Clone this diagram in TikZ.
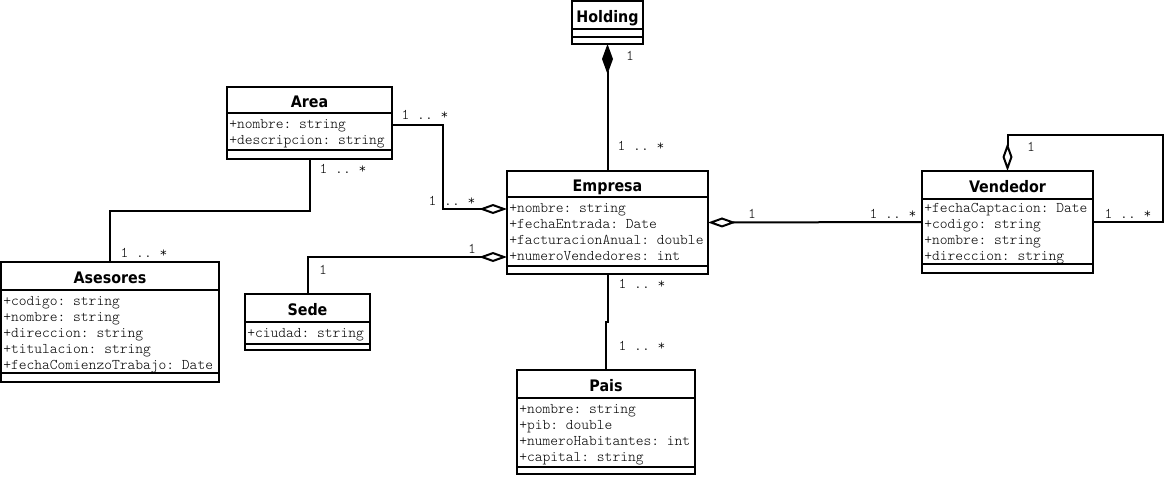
\documentclass[tikz,border=0pt]{standalone}
\usepackage{fontspec}
\setmonofont{Latin Modern Mono Light}
\newfontfamily\titlefont{DejaVu Sans Condensed}
\usetikzlibrary{arrows.meta,calc}

\tikzset{
  x=0.75pt, y=-0.75pt,
  classbox/.style={draw, line width=1.5pt, inner sep=0pt, outer sep=0pt, fill=white},
  sepline/.style={line width=1.5pt},
  titletext/.style={font=\titlefont\bfseries\fontsize{11.9}{13}\selectfont,
    inner sep=0pt, text height=8.6pt, text depth=0pt},
  attrtext/.style={font=\ttfamily\fontsize{11.1}{12}\selectfont,
    inner sep=0pt, anchor=west, text height=6.5pt, text depth=1.5pt},
  mult/.style={font=\ttfamily\fontsize{11.1}{12}\selectfont,
    inner sep=0pt, text height=6.5pt, text depth=1.5pt},
  conn/.style={line width=1.5pt},
  HDia/.tip={Diamond[open, length=21pt, width=7.5pt]},
  FDia/.tip={Diamond[length=22.5pt, width=8.25pt]},
}

% class box: name, x1, y1, x2, first separator, second separator, y2, title
\newcommand\umlclass[8]{%
  \node[classbox, anchor=north west,
        minimum width={(#4-#2)*0.75pt}, minimum height={(#7-#3)*0.75pt}]
        (#1) at (#2,#3) {};
  \draw[sepline] (#2,#5) -- (#4,#5) (#2,#6) -- (#4,#6);
  \node[titletext] (#1-title) at ({(#2+#4)/2},{(#3+#5)/2+1.5}) {#8};
}
% attribute rows: name, x1, top of first row, list of attributes
\newcommand\umlattrs[4]{%
  \foreach \a [count=\i] in {#4}
    {\node[attrtext] (#1-\i) at ({#2+2},{#3+12+16*(\i-1)}) {\a};}
}

\begin{document}
\begin{tikzpicture}
\useasboundingbox (0,0) rectangle (1167,476);
\fill[white] (0,0) rectangle (1167,476);

% classes
\umlclass{holding}{572}{1}{643}{29}{37}{44}{Holding}

\umlclass{area}{227}{87}{392}{113}{150}{159}{Area}
\umlattrs{area}{227}{113}{+nombre: string,+descripcion: string}

\umlclass{asesores}{1}{262}{219}{290}{373}{382}{Asesores}
\umlattrs{asesores}{1}{290}{+codigo: string,+nombre: string,+direccion: string,+titulacion: string,+fechaComienzoTrabajo: Date}

\umlclass{empresa}{507}{171}{708}{197}{266}{274}{Empresa}
\umlattrs{empresa}{507}{197}{+nombre: string,+fechaEntrada: Date,+facturacionAnual: double,+numeroVendedores: int}

\umlclass{sede}{245}{294}{370}{322}{344}{350}{Sede}
\umlattrs{sede}{245}{322}{+ciudad: string}

\umlclass{vendedor}{922}{171}{1093}{199}{264}{273}{Vendedor}
\umlattrs{vendedor}{922}{197}{+fechaCaptacion: Date,+codigo: string,+nombre: string,+direccion: string}

\umlclass{pais}{517}{370}{695}{398}{467}{474}{Pais}
\umlattrs{pais}{517}{398}{+nombre: string,+pib: double,+numeroHabitantes: int,+capital: string}

% associations
\draw[conn, FDia-] (holding.south) -- (empresa.north);
\node[mult] (m-hol) at (630,57) {1};
\node[mult] (m-hol-emp) at (641,147) {1 .. *};

\draw[conn, -HDia] (area-1 -| area.east) -- ++(51,0) |- (empresa-1 -| empresa.west);
\node[mult] (m-area-r) at (425,116) {1 .. *};
\node[mult] (m-emp-l) at (452,202) {1 .. *};

\draw[conn] (area.south) -- ++(0,52) -| (asesores.north);
\node[mult] (m-area-b) at (343,170) {1 .. *};
\node[mult] (m-ases) at (144,254) {1 .. *};

\draw[conn, -HDia] (sede.north) |- (empresa-4 -| empresa.west);
\node[mult] (m-sede) at (323,271) {1};
\node[mult] (m-emp-s) at (472,250) {1};

\draw[conn, HDia-] (empresa.east) -- (vendedor.west);
\node[mult] (m-emp-r) at (752,215) {1};
\node[mult] (m-vend-l) at (893,215) {1 .. *};

\coordinate (loop) at (1163,135);
\draw[conn, -HDia] (vendedor.east) -| (loop) -| (vendedor.north);
\node[mult] (m-vend-t) at (1031,148) {1};
\node[mult] (m-vend-r) at (1128,215) {1 .. *};

\draw[conn] (empresa.south) -- ++(0,48) -| (pais.north);
\node[mult] (m-emp-b) at (642,285) {1 .. *};
\node[mult] (m-pais) at (642,347) {1 .. *};
\end{tikzpicture}
\end{document}
